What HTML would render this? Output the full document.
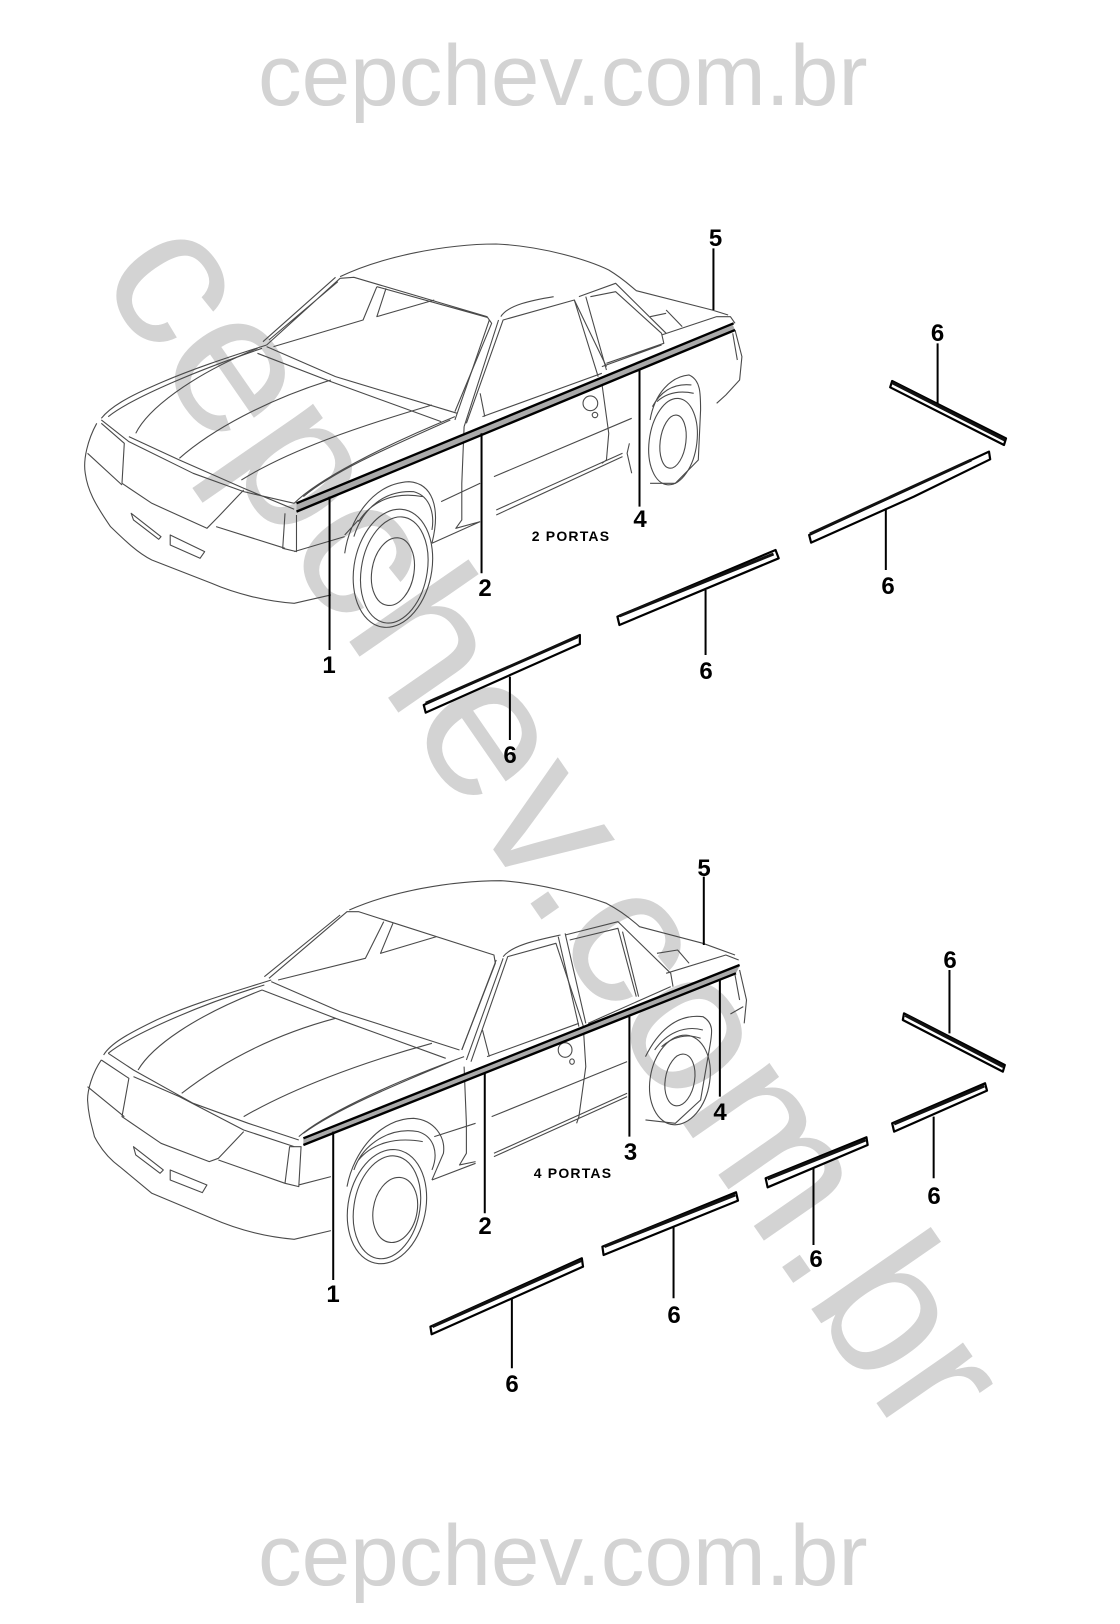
<!DOCTYPE html>
<html><head><meta charset="utf-8"><style>
html,body{margin:0;padding:0;background:#fff}
svg{display:block}
svg *{vector-effect:non-scaling-stroke}
.l path,.l ellipse{fill:none;stroke:#4a4a4a;stroke-width:1.1;stroke-linejoin:round}
.m{fill:#aaa;stroke:none}
.k{fill:none;stroke:#000;stroke-width:2.4}
.t{fill:none;stroke:#000;stroke-width:2}
.p{fill:#fff;stroke:#000;stroke-width:2.2;stroke-linejoin:round}
.h{fill:none;stroke:#111;stroke-width:3}
.n{font:bold 24px "Liberation Sans",sans-serif;text-anchor:middle;fill:#000}
.c{font:bold 14px "Liberation Sans",sans-serif;text-anchor:middle;fill:#000;letter-spacing:1.2px}
.w{font-family:"Liberation Sans",sans-serif;fill:#d3d3d3}
</style></head><body>
<svg width="1120" height="1624" viewBox="0 0 1120 1624" xmlns="http://www.w3.org/2000/svg">
<rect width="1120" height="1624" fill="#fff"/>
<text class="w" font-size="86" transform="translate(258,105) scale(1.015,1)">cepchev.com.br</text>
<text class="w" font-size="86" transform="translate(258,1585) scale(1.015,1)">cepchev.com.br</text>
<text class="w" font-size="200" transform="translate(96,276) rotate(55.3) scale(1.02,1)">cepchev.com.br</text>

<g transform="translate(60,220) scale(.4592,.3333)">
<g class="l">
<path d="M610 170C700 110 840 72 950 72C1050 78 1150 120 1195 150C1225 175 1240 195 1255 212L1420 270L1455 285"/>
<path d="M450 375L610 175L640 172L930 290L940 310L860 575M442 365L600 172M455 360L605 185M465 380L660 300L690 200M710 205L690 290L815 240M690 200L930 292"/>
<path d="M450 380L600 470L865 580M430 400L590 485L830 605"/>
<path d="M90 595C110 560 150 530 200 500C280 450 370 410 450 375M105 590C150 540 280 460 440 385"/>
<path d="M90 600L150 665L290 760L400 815L510 850M150 650L260 720L400 805L510 868"/>
<path d="M165 640C190 570 280 470 430 385M260 715C330 630 450 540 590 480M395 780C500 690 650 620 810 555"/>
<path d="M510 850C560 780 700 680 860 590M530 830C600 750 720 680 850 600"/>
<path d="M90 610L140 670L135 790L200 850L320 925L345 890L400 810M340 920L490 985M60 700L135 795"/>
<path d="M80 610C60 660 50 720 55 760C60 810 75 850 110 920C140 960 170 1000 200 1020L330 1090C380 1120 450 1145 510 1150L590 1125"/>
<path d="M490 880L485 985L515 995L515 885M510 995L620 950"/>
<path d="M155 880L220 950L215 958L160 900ZM240 945L315 995L305 1015L240 975Z"/>
<path d="M620 1000C630 900 680 790 760 785C810 790 830 860 810 970M640 950C660 860 710 810 770 815C810 830 815 890 810 930M620 945L650 900M650 905C680 840 730 815 790 830"/>
<ellipse cx="725" cy="1045" rx="85" ry="178" transform="rotate(6 725 1045)"/>
<ellipse cx="725" cy="1055" rx="46" ry="102" transform="rotate(6 725 1055)"/>
<ellipse cx="728" cy="1050" rx="72" ry="160" transform="rotate(6 728 1050)"/>
<path d="M860 600L935 300M880 620L955 300M885 610L965 300L1120 240L1190 440M920 590L1180 460M915 520L925 590M960 290C975 255 1030 240 1075 230"/>
<path d="M1120 240L1172 470M1145 230L1190 450M1155 230L1210 215L1310 340L1315 370L1190 430M1130 230L1210 190L1320 340M1180 440L1310 375"/>
<path d="M1310 345L1430 290L1460 290L1470 310M1285 290L1320 280M1320 270L1355 320"/>
<path d="M1470 330L1485 410L1480 480L1450 525L1430 550M1465 340L1475 420"/>
<path d="M1180 490L1195 640L1190 720L1180 730M880 620L875 790L875 900L862 925L915 905M945 770L1245 595M950 870L1225 700M950 885L1225 710M1240 670L1235 700L1245 760M810 970L915 905M830 845L915 790"/>
<ellipse cx="1155" cy="550" rx="16" ry="22"/><ellipse cx="1165" cy="585" rx="6" ry="8"/>
<ellipse cx="1335" cy="665" rx="52" ry="130" transform="rotate(5 1335 665)"/>
<ellipse cx="1335" cy="665" rx="28" ry="80" transform="rotate(5 1335 665)"/>
<path d="M1285 600C1295 520 1330 470 1370 465C1395 480 1395 520 1395 570L1390 720L1340 790L1285 790M1290 560C1310 510 1340 490 1375 495M1300 545C1320 520 1345 510 1380 520"/>
</g>
<path class="m" d="M515 853L1465 314L1470 330L515 875Z"/>
<path class="k" d="M515 850L1467 310M515 875L1470 330"/>
<path class="t" d="M587 830V1290M918 640V1060M1262 450V860M1423 85V270"/>
</g>

<g transform="translate(60,860) scale(.4592,.3333)">
<g class="l">
<path d="M630 150C720 95 850 62 960 62C1050 70 1150 110 1190 130C1225 155 1250 185 1262 200L1400 250L1470 285"/>
<path d="M455 355L625 155L650 155L945 285L948 310L875 570M445 350L610 165M475 360L665 295L705 185M725 190L698 280L820 230"/>
<path d="M460 365L610 455L870 570M440 390L600 475L840 595"/>
<path d="M95 585C110 550 150 520 210 480C290 430 380 395 460 360M105 580C150 530 290 440 445 375"/>
<path d="M105 580L160 630L290 730L410 790L520 840M160 650L260 710L400 810L510 860"/>
<path d="M170 630C200 560 290 470 440 390M265 700C340 620 450 530 600 475M400 770C500 690 650 610 810 550"/>
<path d="M520 830C570 770 700 680 880 590M530 820C600 750 720 680 860 600"/>
<path d="M90 600L150 655L135 770L220 850L325 905L345 895L400 815M345 900L490 970M490 970L520 980L525 860L500 860ZM520 975L590 950M60 680L140 770"/>
<path d="M90 600C70 640 60 690 60 720C62 770 70 800 75 830C90 870 110 900 130 920L200 1000L330 1075C380 1105 440 1130 510 1138L590 1112"/>
<path d="M160 860L225 930L218 940L165 885ZM240 930L320 975L310 998L240 960Z"/>
<path d="M625 980C640 870 700 775 770 775C815 780 840 830 835 880L810 960M640 930C660 850 720 800 780 815C815 830 825 880 810 930M650 900C680 850 730 830 790 845"/>
<ellipse cx="712" cy="1040" rx="85" ry="172" transform="rotate(6 712 1040)"/>
<ellipse cx="712" cy="1042" rx="72" ry="155" transform="rotate(6 712 1042)"/>
<ellipse cx="730" cy="1050" rx="48" ry="98" transform="rotate(6 730 1050)"/>
<path d="M875 570L950 300M885 600L965 295M895 605L975 290L1080 250L1140 500M930 590L1130 490M920 510L935 590M965 290C985 255 1040 240 1090 225"/>
<path d="M1085 230L1130 500M1100 220L1145 490M1110 240L1215 205L1255 410M1225 215L1260 410M1100 225L1215 185L1330 340L1335 380M1150 490L1330 380"/>
<path d="M1320 340L1450 285L1478 300M1300 280L1345 270L1370 310"/>
<path d="M1480 330L1495 420L1490 490M1460 462L1488 440M1470 345L1480 420"/>
<path d="M1140 510L1145 620L1130 770L1125 790M880 620L885 790L885 880L870 915L905 905M940 770L1235 605M945 880L1235 700M945 890L1235 710M815 830L905 790M810 960L905 910"/>
<ellipse cx="1100" cy="570" rx="15" ry="22"/><ellipse cx="1115" cy="605" rx="5" ry="8"/>
<ellipse cx="1350" cy="660" rx="65" ry="135" transform="rotate(6 1350 660)"/>
<ellipse cx="1350" cy="660" rx="32" ry="78" transform="rotate(6 1350 660)"/>
<path d="M1275 590C1300 520 1340 460 1400 470C1425 490 1420 520 1415 560L1395 720L1340 790L1275 780M1295 570C1320 520 1360 495 1400 510M1310 560C1335 530 1365 520 1395 535"/>
</g>
<path class="m" d="M530 838L1480 318L1472 340L530 855Z"/>
<path class="k" d="M530 835L1480 315M530 855L1472 340"/>
<path class="t" d="M595 815V1260M925 640V1060M1240 470V830M1437 360V710M1402 50V255"/>
</g>

<g transform="translate(400,300) scale(.3953,.3333)">
<path class="p" d="M1245 243L1533 415L1528 435L1240 262Z"/><path class="h" d="M1245 248L1530 420"/>
<path class="p" d="M1035 705L1490 455L1493 478L1300 590L1040 728Z"/><path class="h" d="M1037 702L1445 480"/>
<path class="p" d="M550 950L950 750L958 775L555 975Z"/><path class="h" d="M555 948L945 762"/>
<path class="p" d="M60 1215L455 1005L455 1032L65 1238Z"/><path class="h" d="M65 1210L450 1010"/>
<path class="t" d="M1360 130V310M1229 625V810M773 870V1065M278 1130V1320"/>
</g>

<g transform="translate(400,940) scale(.3953,.3333)">
<path class="p" d="M1275 220L1530 375L1525 395L1272 240Z"/><path class="h" d="M1278 226L1526 380"/>
<path class="p" d="M1245 550L1480 430L1485 452L1250 575Z"/><path class="h" d="M1250 552L1478 438"/>
<path class="p" d="M925 715L1180 592L1183 615L930 742Z"/><path class="h" d="M930 717L1178 600"/>
<path class="p" d="M512 920L850 757L855 782L515 945Z"/><path class="h" d="M517 920L848 765"/>
<path class="p" d="M77 1160L460 955L463 980L80 1183Z"/><path class="h" d="M82 1160L458 962"/>
<path class="t" d="M1390 90V280M1350 530V715M1046 685V915M692 860V1075M283 1075V1285"/>
</g>

<text class="n" x="715.5" y="246">5</text>
<text class="n" x="937.5" y="341">6</text>
<text class="n" x="329" y="673">1</text>
<text class="n" x="485" y="596">2</text>
<text class="n" x="640" y="527">4</text>
<text class="n" x="888" y="594">6</text>
<text class="n" x="706" y="679">6</text>
<text class="n" x="510" y="763">6</text>
<text class="c" x="571" y="541">2 PORTAS</text>

<text class="n" x="704" y="876">5</text>
<text class="n" x="950" y="968">6</text>
<text class="n" x="720" y="1120">4</text>
<text class="n" x="630.5" y="1160">3</text>
<text class="n" x="485" y="1234">2</text>
<text class="n" x="333" y="1302">1</text>
<text class="n" x="934" y="1204">6</text>
<text class="n" x="816" y="1267">6</text>
<text class="n" x="674" y="1323">6</text>
<text class="n" x="512" y="1392">6</text>
<text class="c" x="573" y="1178">4 PORTAS</text>
</svg>
</body></html>
